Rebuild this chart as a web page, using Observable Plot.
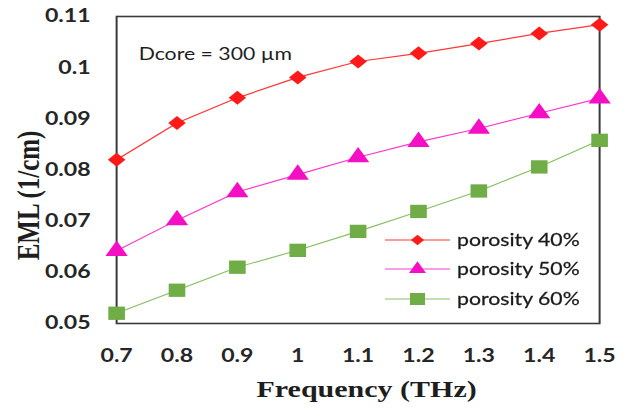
<!DOCTYPE html>
<html>
<head>
<meta charset="utf-8">
<script src="https://cdn.jsdelivr.net/npm/d3@7"></script>
<script src="https://cdn.jsdelivr.net/npm/@observablehq/plot@0.6"></script>
<style>
  html, body { margin: 0; padding: 0; background: #fff; }
  #wrap { position: relative; width: 505.6px; height: 410px; transform: scaleX(1.25); transform-origin: 0 0; }
</style>
</head>
<body>
<div id="wrap"></div>
<script>
// ---- data ----
const frequencies = [0.7, 0.8, 0.9, 1.0, 1.1, 1.2, 1.3, 1.4, 1.5];
const porosity40 = [0.0820, 0.0892, 0.0941, 0.0981, 0.1012, 0.1028, 0.1047, 0.1067, 0.1084];
const porosity50 = [0.0642, 0.0702, 0.0757, 0.0791, 0.0825, 0.0855, 0.0881, 0.0911, 0.0940];
const porosity60 = [0.0520, 0.0565, 0.0610, 0.0643, 0.0680, 0.0719, 0.0759, 0.0806, 0.0858];
const seriesNames = ["porosity 40%", "porosity 50%", "porosity 60%"];
const seriesColors = ["#ff1a1a", "#f50fc4", "#70ad47"];
const lineColors = ["#ff3838", "#fb3ccf", "#8cc068"];
const seriesSymbols = ["diamond2", "triangle", "square"];
const xTicks = [0.7, 0.8, 0.9, 1.0, 1.1, 1.2, 1.3, 1.4, 1.5];
const xTickLabels = ["0.7", "0.8", "0.9", "1", "1.1", "1.2", "1.3", "1.4", "1.5"];
const yTicks = [0.05, 0.06, 0.07, 0.08, 0.09, 0.10, 0.11];
const yTickLabels = ["0.05", "0.06", "0.07", "0.08", "0.09", "0.1", "0.11"];
const annotationText = "Dcore = 300 \u00b5m";
const xLabel = "Frequency (THz)";
const yLabel = "EML (1/cm)";

const seriesValues = [porosity40, porosity50, porosity60];
const rows = seriesNames.flatMap((name, s) =>
  frequencies.map((f, i) => ({ series: name, freq: f, value: seriesValues[s][i] })));

// ---- layout (internal coordinates; container is stretched 1.25x horizontally) ----
const SX = 1.25;
const W = 632 / SX;
const mL = 116 / SX, mR = 33 / SX, mT = 16, mB = 87;
const frameCY = mT + (410 - mT - mB) / 2;
const frameCX = mL + (W - mL - mR) / 2;
const dotArea = [125, 138, 177];
const tickFont = "Lato, 'Open Sans', sans-serif";
const serif = "'Liberation Serif', 'DejaVu Serif', serif";

const chart = Plot.plot({
  width: W,
  height: 410,
  marginLeft: mL,
  marginRight: mR,
  marginTop: mT,
  marginBottom: mB,
  style: { fontFamily: tickFont, background: "#fff", color: "#262626", overflow: "visible" },
  x: { domain: [0.7, 1.5] },
  y: { domain: [0.05, 0.11] },
  color: { domain: seriesNames, range: lineColors },
  marks: [
    Plot.frame({ stroke: "#3a3a3a", strokeWidth: 1.6 }),
    Plot.axisX({
      ticks: xTicks, tickSize: 0, tickPadding: 25,
      tickFormat: d => xTickLabels[xTicks.indexOf(d)],
      fontSize: 18.5, fontWeight: "bold", fill: "#262626", label: null
    }),
    Plot.axisY({
      ticks: yTicks, tickSize: 0, tickPadding: 20.8,
      tickFormat: d => yTickLabels[yTicks.findIndex(t => Math.abs(t - d) < 1e-9)],
      fontSize: 18.5, fontWeight: "bold", fill: "#262626", label: null
    }),
    Plot.line(rows, { x: "freq", y: "value", z: "series", stroke: "series", strokeWidth: 1.15 }),
    ...seriesNames.map((name, s) =>
      Plot.dot(rows.filter(d => d.series === name), {
        x: "freq", y: "value", fill: seriesColors[s], stroke: "none",
        symbol: seriesSymbols[s], r: Math.sqrt(dotArea[s] / Math.PI)
      })),
    Plot.text([annotationText], {
      text: d => d, frameAnchor: "top-left", dx: 138 / SX - mL, dy: 38.5,
      textAnchor: "start", lineAnchor: "middle", fontSize: 17, fill: "#1e1e1e"
    }),
    Plot.text([yLabel], {
      text: d => d, frameAnchor: "left", rotate: -90,
      textAnchor: "middle", lineAnchor: "middle",
      dx: 28 / SX - mL, dy: 195 - frameCY,
      fontFamily: serif, fontWeight: "bold", fontSize: 25, fill: "#1e1e1e"
    }),
    Plot.text([xLabel], {
      text: d => d, frameAnchor: "bottom",
      textAnchor: "middle", lineAnchor: "middle",
      dx: 366 / SX - frameCX, dy: 66,
      fontFamily: serif, fontWeight: "bold", fontSize: 24, fill: "#1e1e1e"
    })
  ]
});

// ---- legend (drawn into the same svg) ----
const svg = d3.select(chart);
const legendRows = [240, 269, 299];
const legendArea = [70, 80, 144];
const lx1 = 385 / SX, lx2 = 450 / SX, ltx = 457 / SX;
const lg = svg.append("g").attr("class", "legend").attr("text-anchor", "start");
seriesNames.forEach((name, s) => {
  const y = legendRows[s];
  const g = lg.append("g");
  g.append("line").attr("x1", lx1).attr("x2", lx2).attr("y1", y).attr("y2", y)
    .attr("stroke", lineColors[s]).attr("stroke-width", 1.15);
  const sym = { diamond2: d3.symbolDiamond2, triangle: d3.symbolTriangle, square: d3.symbolSquare }[seriesSymbols[s]];
  g.append("path").attr("d", d3.symbol(sym, legendArea[s])())
    .attr("transform", `translate(${(lx1 + lx2) / 2},${y})`).attr("fill", seriesColors[s]);
  g.append("text").attr("x", ltx).attr("y", y).attr("dy", "0.35em").attr("text-anchor", "start")
    .attr("font-size", 17).attr("font-family", tickFont).attr("fill", "#1a1a1a")
    .attr("stroke", "#1a1a1a").attr("stroke-width", 0.25).text(name);
});

document.getElementById("wrap").appendChild(chart);
</script>
</body>
</html>
